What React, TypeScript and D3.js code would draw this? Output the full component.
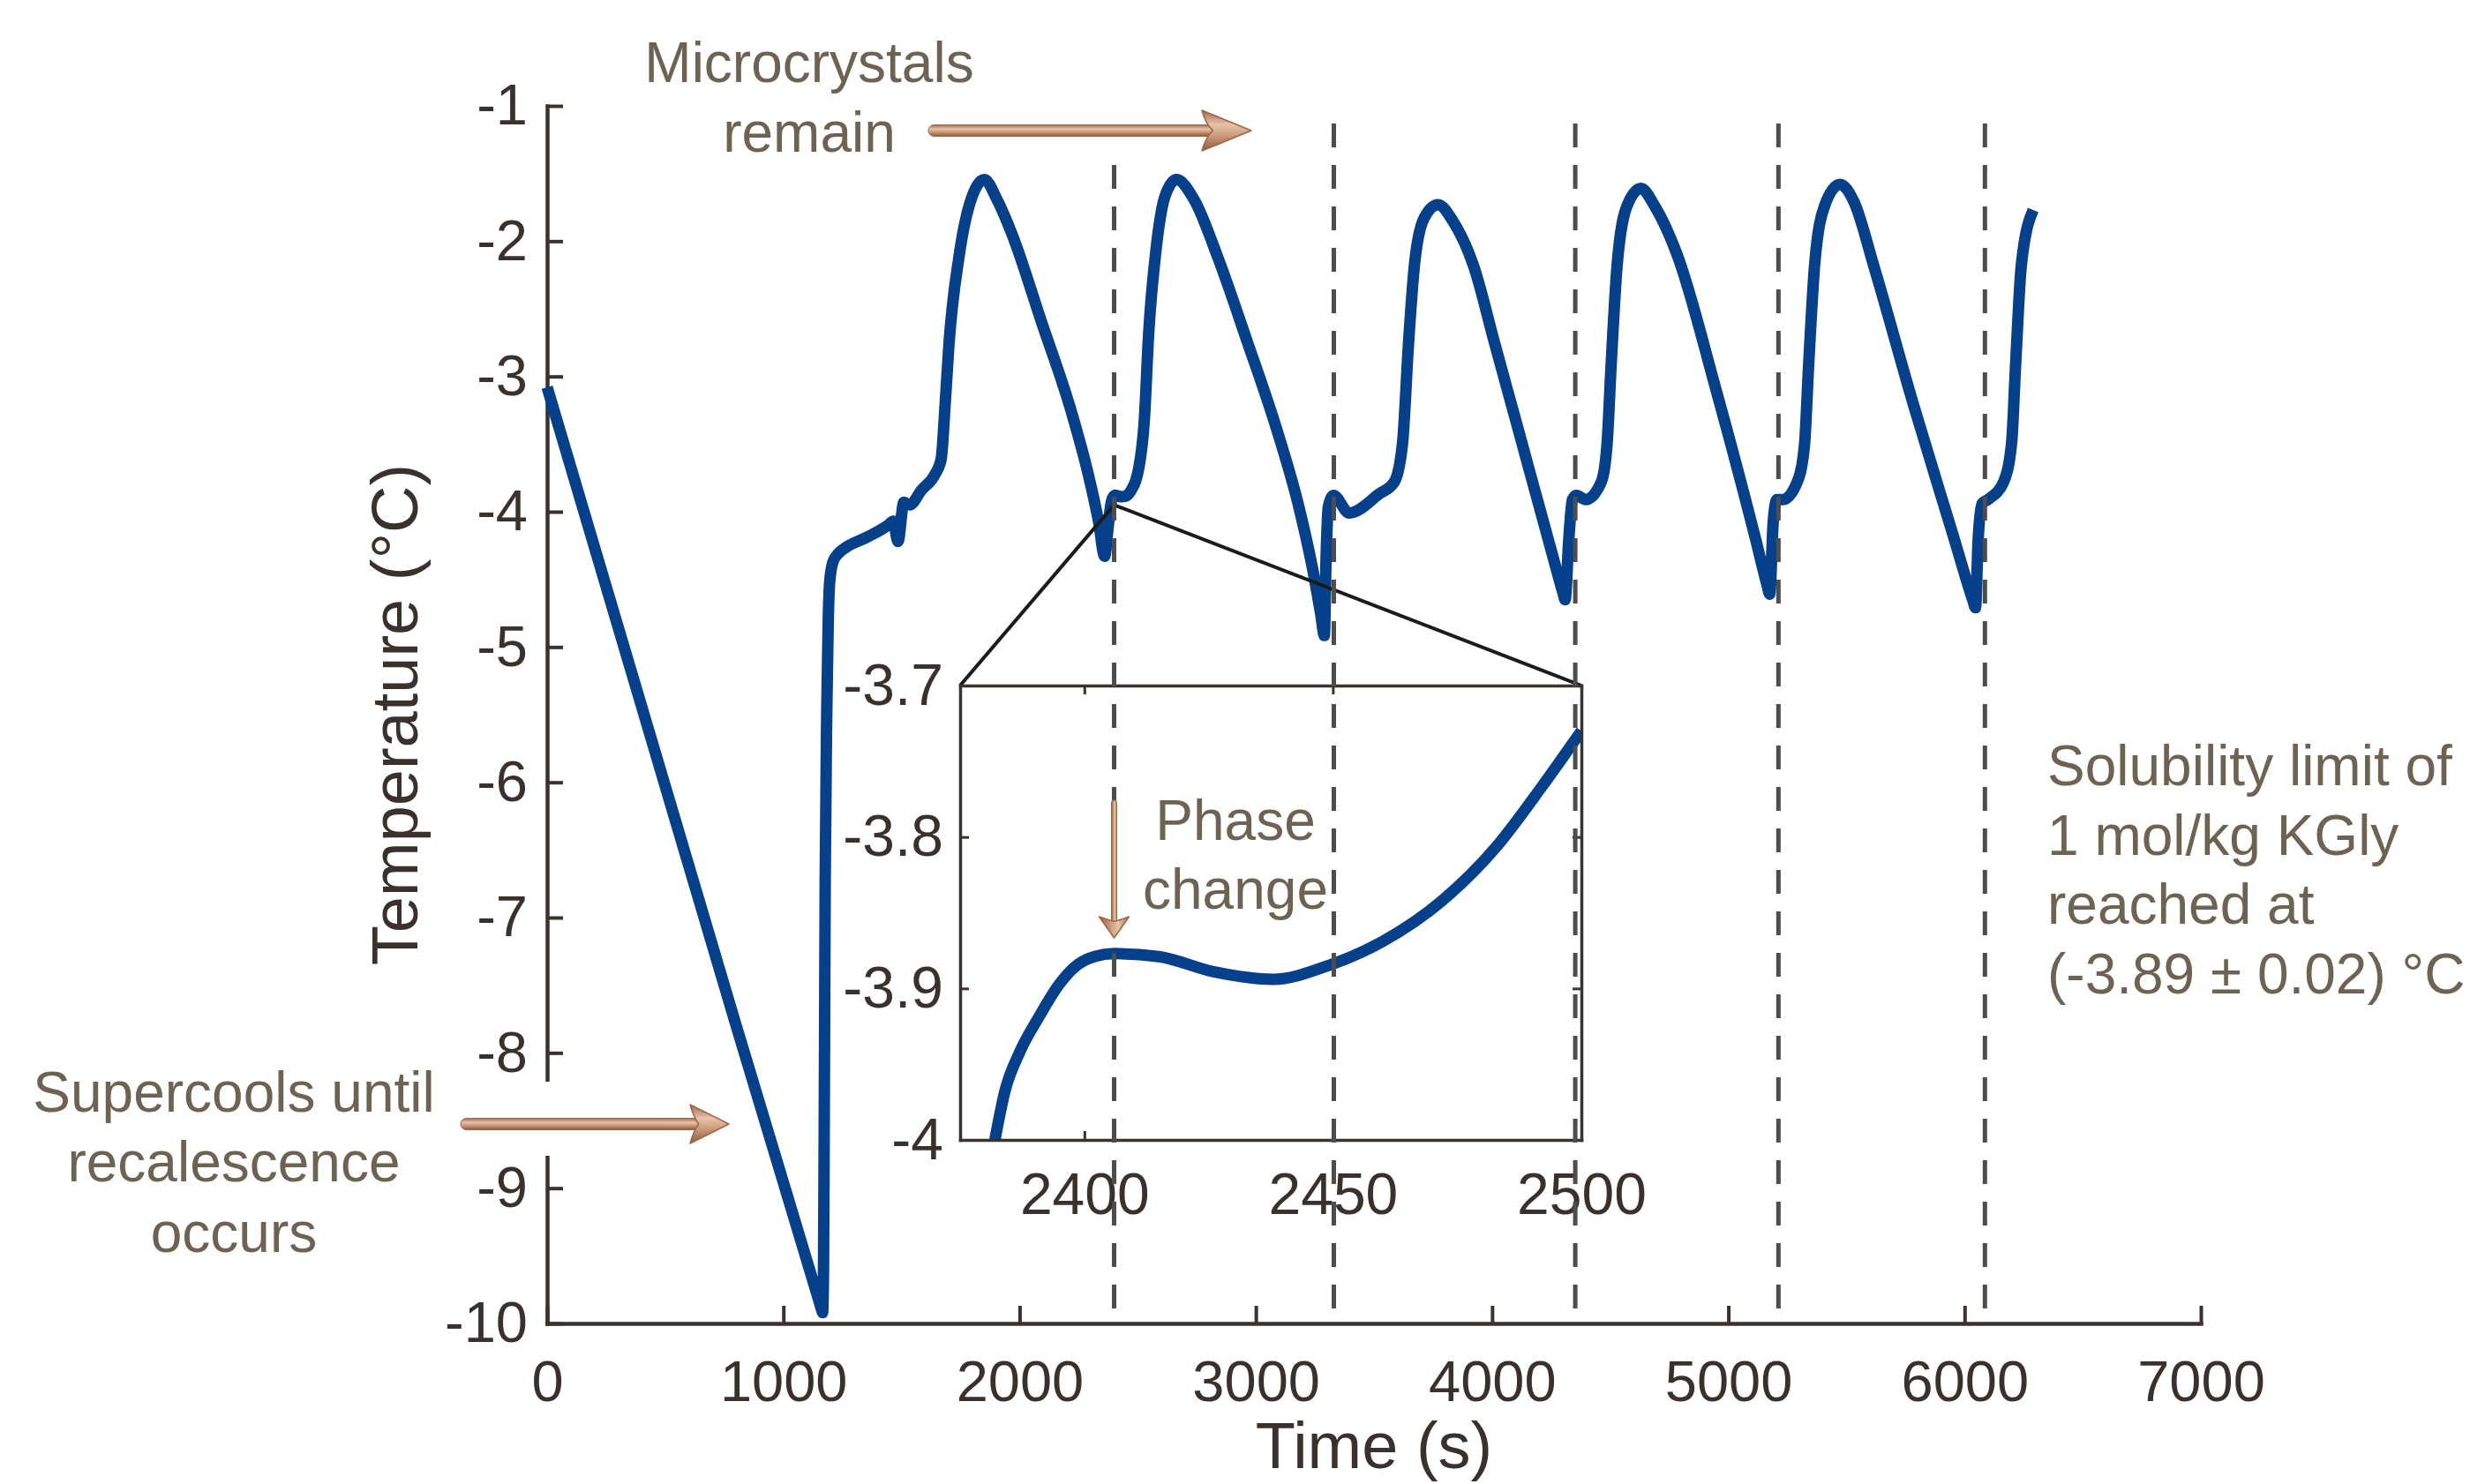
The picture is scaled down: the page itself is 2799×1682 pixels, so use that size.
import React, { useEffect, useRef } from "react";
import * as d3 from "d3";

// canvas + plot boxes (px)
const WIDTH = 2799;
const HEIGHT = 1682;
const MAIN = { left: 620, right: 2494, top: 120, bottom: 1500 };
const INSET = { left: 1088, right: 1792, top: 777, bottom: 1292 };

const FONT = "'Liberation Sans', Arial, Helvetica, sans-serif";
const AXIS_COLOR = "#3b322d";
const LABEL_COLOR = "#3a312c";
const NOTE_COLOR = "#6e6252";
const LINE_COLOR = "#063f8a";

// ---- data ----
const timeS = [
  0, 797, 1150, 1162, 1166, 1170, 1173, 1177, 1184, 1190, 1196, 1210, 1232, 1268, 1352,
  1443, 1465, 1485, 1510, 1534, 1585, 1643, 1668, 1685, 1701, 1743, 1786, 1851,
  1905, 1967, 2092, 2216, 2290, 2335, 2360, 2372, 2382, 2388, 2396, 2406, 2426, 2449, 2472, 2492,
  2503, 2528, 2546, 2577, 2615, 2664, 2739, 2839, 2963, 3088, 3180, 3240, 3275, 3290, 3297, 3307,
  3329, 3395, 3521, 3586, 3621, 3646, 3671, 3712, 3771, 3837, 3921, 4010, 4104, 4254, 4300,
  4309, 4324, 4340, 4357, 4396, 4462, 4487, 4504, 4529, 4571, 4630, 4688, 4781,
  4948, 5115, 5165, 5175, 5190, 5206, 5231, 5298, 5323, 5340, 5365, 5407, 5473, 5532,
  5615, 5782, 5949, 6036, 6046, 6057, 6074, 6099, 6165, 6199, 6216, 6240, 6290,
];
const tempC = [
  -3.08, -7.78, -9.83, -9.9, -9.92, -9.6, -8.5, -6.74, -5.44, -4.8, -4.52, -4.37, -4.31, -4.26, -4.19,
  -4.1, -4.07, -4.22, -3.93, -3.95, -3.84, -3.72, -3.61, -3.2, -2.76, -2.12, -1.74, -1.545,
  -1.695, -1.945, -2.594, -3.243, -3.72, -4.08, -4.33, -4.16, -4.0, -3.93, -3.89, -3.877, -3.889, -3.885, -3.842, -3.767,
  -3.69, -3.32, -2.69, -2.07, -1.67, -1.545, -1.695, -2.12, -2.74, -3.39, -3.95, -4.42, -4.76, -4.915, -4.36, -3.96,
  -3.88, -4.01, -3.87, -3.78, -3.49, -2.76, -2.18, -1.83, -1.73, -1.86, -2.18, -2.75, -3.35, -4.31, -4.6,
  -4.65, -4.22, -3.91, -3.88, -3.91, -3.78, -3.49, -2.91, -2.18, -1.74, -1.61, -1.74, -2.09,
  -3.1, -4.2, -4.55, -4.61, -4.07, -3.91, -3.91, -3.75, -3.49, -2.91, -2.18, -1.74, -1.58, -1.71,
  -2.18, -3.2, -4.16, -4.66, -4.71, -4.22, -3.94, -3.91, -3.78, -3.49, -2.91, -2.18, -1.77,
];

const insetTimeS = [
  2382, 2384, 2387, 2391, 2395, 2398, 2402, 2406, 2415, 2426, 2438, 2449, 2460, 2472, 2483, 2492, 2500,
];
const insetTempC = [
  -4.0, -3.968, -3.942, -3.918, -3.897, -3.886, -3.879, -3.877, -3.879, -3.889, -3.894, -3.885,
  -3.869, -3.842, -3.806, -3.767, -3.73,
];

const xTicks = [0, 1000, 2000, 3000, 4000, 5000, 6000, 7000];
const yTicks = [-1, -2, -3, -4, -5, -6, -7, -8, -9, -10];
const insetXTicks = [2400, 2450, 2500];
const insetYTicks = [-4, -3.9, -3.8, -3.7];
const dashedTimes = [2400, 3330, 4352, 5212, 6086];
const zoomAnchor = { t: 2400, T: -3.95 };

const solubilityLines = [
  "Solubility limit of",
  "1 mol/kg KGly",
  "reached at",
  "(-3.89 \u00b1 0.02) \u00b0C",
];

type ArrowProps = { x: number; y: number; length: number; shaft: number; headLen: number; headHalf: number; angle?: number };

const Arrow = ({ x, y, length, shaft, headLen, headHalf, angle = 0 }: ArrowProps) => {
  const back = length - headLen;
  const notch = length - headLen * 0.78;
  return (
    <g transform={`translate(${x},${y}) rotate(${angle})`}>
      <rect
        x={0}
        y={-shaft / 2}
        width={notch + 2}
        height={shaft}
        rx={shaft / 2}
        fill="url(#copper)"
        stroke="#9c6647"
        strokeWidth={1}
      />
      <path
        d={`M${length},0 L${back},${-headHalf} Q${back + 4},${-headHalf * 0.35} ${notch},0 Q${back + 4},${headHalf * 0.35} ${back},${headHalf} Z`}
        fill="url(#copper)"
        stroke="#9c6647"
        strokeWidth={1.5}
        strokeLinejoin="round"
      />
    </g>
  );
};

export default function App() {
  const mainAxesRef = useRef<SVGGElement>(null);
  const insetAxesRef = useRef<SVGGElement>(null);

  const x = d3.scaleLinear().domain([0, 7000]).range([MAIN.left, MAIN.right]);
  const y = d3.scaleLinear().domain([-10, -1]).range([MAIN.bottom, MAIN.top]);
  const xi = d3.scaleLinear().domain([2375, 2500]).range([INSET.left, INSET.right]);
  const yi = d3.scaleLinear().domain([-4, -3.7]).range([INSET.bottom, INSET.top]);

  const mainData: [number, number][] = timeS.map((t, i) => [t, tempC[i]]);
  const insetData: [number, number][] = insetTimeS.map((t, i) => [t, insetTempC[i]]);

  const mainLine = d3
    .line<[number, number]>()
    .x((d) => x(d[0]))
    .y((d) => y(d[1]))
    .curve(d3.curveMonotoneX);
  const insetLine = d3
    .line<[number, number]>()
    .x((d) => xi(d[0]))
    .y((d) => yi(d[1]))
    .curve(d3.curveMonotoneX);

  useEffect(() => {
    const styleAxis = (g: any, fontSize: number, tickW: number, domainW: number) => {
      g.attr("font-family", FONT).attr("font-size", fontSize);
      g.select(".domain").attr("stroke", AXIS_COLOR).attr("stroke-width", domainW).attr("stroke-linecap", "square");
      g.selectAll(".tick line").attr("stroke", AXIS_COLOR).attr("stroke-width", tickW);
      g.selectAll(".tick text").attr("fill", LABEL_COLOR);
    };

    // main axes
    const m = d3.select(mainAxesRef.current);
    m.selectAll("*").remove();
    const gy = m.append("g").attr("transform", `translate(${MAIN.left},0)`);
    gy.call(
      d3.axisLeft(y).tickValues(yTicks).tickSize(-18).tickSizeOuter(0).tickPadding(22).tickFormat((d) => String(d))
    );
    styleAxis(gy, 65, 4, 4.5);
    const gx = m.append("g").attr("transform", `translate(0,${MAIN.bottom})`);
    gx.call(
      d3.axisBottom(x).tickValues(xTicks).tickSize(-20).tickSizeOuter(0).tickPadding(42).tickFormat((d) => String(d))
    );
    styleAxis(gx, 65, 4, 4.5);

    // inset axes (boxed, ticks inward on all sides)
    const n = d3.select(insetAxesRef.current);
    n.selectAll("*").remove();
    const il = n.append("g").attr("transform", `translate(${INSET.left},0)`);
    il.call(
      d3.axisLeft(yi).tickValues(insetYTicks).tickSize(-10).tickSizeOuter(0).tickPadding(19).tickFormat((d) => String(d))
    );
    styleAxis(il, 66, 3, 3.5);
    const ir = n.append("g").attr("transform", `translate(${INSET.right},0)`);
    ir.call(d3.axisRight(yi).tickValues(insetYTicks).tickSize(-10).tickSizeOuter(0).tickFormat(() => ""));
    styleAxis(ir, 66, 3, 3.5);
    const ib = n.append("g").attr("transform", `translate(0,${INSET.bottom})`);
    ib.call(
      d3.axisBottom(xi).tickValues(insetXTicks).tickSize(-10).tickSizeOuter(0).tickPadding(37).tickFormat((d) => String(d))
    );
    styleAxis(ib, 66, 3, 3.5);
    const it = n.append("g").attr("transform", `translate(0,${INSET.top})`);
    it.call(d3.axisTop(xi).tickValues(insetXTicks).tickSize(-10).tickSizeOuter(0).tickFormat(() => ""));
    styleAxis(it, 66, 3, 3.5);
  }, []);

  const ax = x(zoomAnchor.t);
  const ay = y(zoomAnchor.T);

  return (
    <svg
      width={WIDTH}
      height={HEIGHT}
      style={{ position: "absolute", left: 0, top: 0, background: "#fff" }}
      fontFamily={FONT}
    >
      <defs>
        <linearGradient id="copper" x1="0" y1="0" x2="0" y2="1">
          <stop offset="0" stopColor="#a06848" />
          <stop offset="0.35" stopColor="#e6c3aa" />
          <stop offset="0.6" stopColor="#cf9e80" />
          <stop offset="1" stopColor="#8f5a3c" />
        </linearGradient>
        <clipPath id="insetClip">
          <rect x={INSET.left} y={INSET.top} width={INSET.right - INSET.left} height={INSET.bottom - INSET.top} />
        </clipPath>
      </defs>
      <rect width={WIDTH} height={HEIGHT} fill="#fff" />

      <g ref={mainAxesRef} />

      {/* label patch that hides part of the y axis */}
      <rect x={495} y={1226} width={345} height={84} fill="#fff" />

      <path
        d={mainLine(mainData) || ""}
        fill="none"
        stroke={LINE_COLOR}
        strokeWidth={13}
        strokeLinejoin="round"
        strokeLinecap="butt"
      />

      {/* zoom connector lines */}
      <line x1={ax} y1={ay} x2={INSET.left} y2={INSET.top} stroke="#1b1b1b" strokeWidth={4} />
      <line x1={ax} y1={ay} x2={INSET.right} y2={INSET.top} stroke="#1b1b1b" strokeWidth={4} />

      {/* inset */}
      <rect x={INSET.left} y={INSET.top} width={INSET.right - INSET.left} height={INSET.bottom - INSET.top} fill="#fff" />
      <path
        d={insetLine(insetData) || ""}
        fill="none"
        stroke={LINE_COLOR}
        strokeWidth={13}
        strokeLinejoin="round"
        clipPath="url(#insetClip)"
      />
      <g ref={insetAxesRef} />

      {/* dashed markers */}
      {dashedTimes.map((t) => (
        <line
          key={t}
          x1={x(t)}
          x2={x(t)}
          y1={y(-1.13)}
          y2={y(-10)}
          stroke="#4d4d4d"
          strokeWidth={5}
          strokeDasharray="27 20"
        />
      ))}

      {/* label patch for top annotation */}
      <rect x={1005} y={0} width={440} height={182} fill="#fff" />

      {/* annotations */}
      <g fill={NOTE_COLOR} fontSize={64} textAnchor="middle">
        <text x={917} y={93}>Microcrystals</text>
        <text x={917} y={172}>remain</text>
        <text x={265} y={1260}>Supercools until</text>
        <text x={265} y={1339}>recalescence</text>
        <text x={265} y={1419}>occurs</text>
        <text x={1400} y={952}>Phase</text>
        <text x={1400} y={1030}>change</text>
      </g>
      <g fill={NOTE_COLOR} fontSize={64}>
        {solubilityLines.map((s, i) => (
          <text key={s} x={2320} y={890 + i * 78.7}>
            {s}
          </text>
        ))}
      </g>

      <Arrow x={1052} y={148} length={366} shaft={13} headLen={56} headHalf={23} />
      <Arrow x={522} y={1274} length={304} shaft={13} headLen={44} headHalf={22} />
      <Arrow x={x(2400)} y={907} length={156} shaft={6} headLen={24} headHalf={17} angle={90} />

      {/* axis titles */}
      <text x={(MAIN.left + MAIN.right) / 2} y={1664} textAnchor="middle" fontSize={74} fill={LABEL_COLOR}>
        Time (s)
      </text>
      <text
        transform={`translate(473,${(MAIN.top + MAIN.bottom) / 2}) rotate(-90)`}
        textAnchor="middle"
        fontSize={74}
        fill={LABEL_COLOR}
      >
        Temperature (°C)
      </text>
    </svg>
  );
}
